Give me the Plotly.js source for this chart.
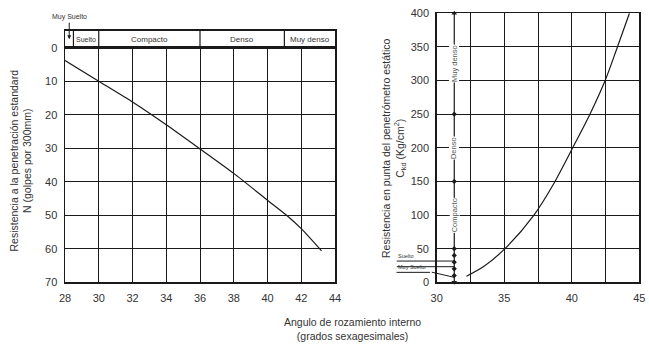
<!DOCTYPE html>
<html><head><meta charset="utf-8">
<script src="https://cdn.plot.ly/plotly-3.0.1.min.js"></script>
<style>html,body{margin:0;padding:0;background:#fff}#chart{width:649px;height:347px}</style>
</head><body><div id="chart"></div>
<script>
// ---- Left chart: friction angle vs SPT N ----
const sptAngle = [28, 30, 32, 34, 36, 38, 40, 41.13, 42, 43.2];
const sptN     = [3.8, 10, 16.2, 23.0, 30.2, 37.5, 45.5, 50, 54, 60.6];
const sptClassNames  = ['Muy Suelto', 'Suelto', 'Compacto', 'Denso', 'Muy denso'];
const sptClassBounds = [28, 28.5, 30, 36, 41, 44];
const leftXTicks = [28, 30, 32, 34, 36, 38, 40, 42, 44];
const leftYTicks = [0, 10, 20, 30, 40, 50, 60, 70];

// ---- Right chart: friction angle vs cone resistance ----
const cptAngle = [32.2, 33.45, 35.05, 37.2, 38.76, 40.07, 41.3, 42.47, 43.38, 44.27];
const cptQc    = [9, 23, 50, 100, 150, 200, 248, 300, 350, 400];
const cptScaleAngle  = 31.3;
const cptClassNames  = ['Compacto', 'Denso', 'Muy denso'];
const cptClassBounds = [50, 150, 250, 400];
const cptScaleTicks  = [10, 20, 30, 40, 50, 150, 250];
const cptLooseNames  = ['Suelto', 'Muy Suelto'];
const cptLooseLines  = [31.6, 23.2];
const cptVeryLooseLine = [14.8, 7.4];
const rightXTicks  = [30, 32.5, 35, 37.5, 40, 42.5, 45];
const rightXLabels = ['30', '', '35', '', '40', '', '45'];
const rightYTicks  = [0, 50, 100, 150, 200, 250, 300, 350, 400];

const W = 649, H = 347;
const INK = '#1a1a1a';
const tickFont = {family: 'Liberation Sans, Arial, sans-serif', size: 11, color: '#333'};

const gridAxis = (extra) => Object.assign({
  showgrid: true, gridcolor: INK, gridwidth: 1,
  showline: true, mirror: true, linecolor: INK, linewidth: 1.5,
  zeroline: false, ticks: 'outside', tickcolor: 'rgba(0,0,0,0)',
  tickfont: tickFont, fixedrange: true
}, extra);

const traces = [
  {x: sptAngle, y: sptN, xaxis: 'x', yaxis: 'y', mode: 'lines',
   line: {color: INK, width: 1.2, shape: 'spline', smoothing: 0.6}, hoverinfo: 'skip'},
  {x: cptAngle, y: cptQc, xaxis: 'x2', yaxis: 'y2', mode: 'lines',
   line: {color: INK, width: 1.2, shape: 'spline', smoothing: 0.8}, hoverinfo: 'skip'},
  {x: [cptScaleAngle, cptScaleAngle], y: [0, 400], xaxis: 'x2', yaxis: 'y2', mode: 'lines+markers',
   line: {color: INK, width: 1.2}, marker: {symbol: ['triangle-down', 'triangle-up'], size: 5, color: INK},
   cliponaxis: false, hoverinfo: 'skip'},
  {x: cptScaleTicks.map(() => cptScaleAngle), y: cptScaleTicks, xaxis: 'x2', yaxis: 'y2', mode: 'markers',
   marker: {symbol: 'diamond', size: 4, color: INK}, hoverinfo: 'skip'}
];

const shapes = [];
sptClassBounds.slice(1, -1).forEach(b => shapes.push({
  type: 'line', xref: 'x3', yref: 'y3', x0: b, x1: b, y0: 0, y1: 1,
  line: {color: INK, width: 1.2}
}));

const annotations = [];
// header labels
sptClassNames.forEach((name, i) => {
  const mid = (sptClassBounds[i] + sptClassBounds[i + 1]) / 2;
  if (i === 0) {
    annotations.push({xref: 'x3', yref: 'y3', x: mid, y: 0.5, text: name,
      showarrow: true, arrowhead: 2, arrowsize: 0.8, arrowwidth: 1, arrowcolor: INK,
      ax: 0, ay: -22, standoff: 0, font: {family: tickFont.family, size: 7, color: '#333'}});
  } else {
    annotations.push({xref: 'x3', yref: 'y3', x: mid, y: 0.5, text: name, showarrow: false,
      xanchor: 'center', yanchor: 'middle',
      font: {family: tickFont.family, size: i === 1 ? 7 : 8, color: '#333'}});
  }
});
// right scale class labels
cptClassNames.forEach((name, i) => {
  const mid = (cptClassBounds[i] + cptClassBounds[i + 1]) / 2;
  annotations.push({xref: 'x2', yref: 'y2', x: cptScaleAngle, y: mid, text: name, textangle: -90,
    showarrow: false, bgcolor: '#fff', borderpad: 0, xanchor: 'center', yanchor: 'middle',
    font: {family: tickFont.family, size: 7.5, color: '#555'}});
});
// loose-sand leaders
cptLooseLines.forEach(v => annotations.push({xref: 'x2', yref: 'y2', x: cptScaleAngle, y: v, text: ' ',
  showarrow: true, arrowhead: 0, arrowwidth: 1, arrowcolor: INK, ax: -59, ay: 0, standoff: 0,
  font: {size: 1}}));
annotations.push({xref: 'paper', yref: 'y2', x: 396 / W, y: cptLooseLines[0], yanchor: 'bottom', xanchor: 'left',
  text: cptLooseNames[0], showarrow: false, font: {family: tickFont.family, size: 5.5, color: '#333'}});
annotations.push({xref: 'paper', yref: 'y2', x: 396 / W, y: cptVeryLooseLine[0], yanchor: 'bottom', xanchor: 'left',
  text: cptLooseNames[1], showarrow: false, font: {family: tickFont.family, size: 5.5, color: '#333'}});
annotations.push({xref: 'paper', yref: 'y2', x: 430 / W, y: cptVeryLooseLine[0], text: ' ',
  showarrow: true, arrowhead: 0, arrowwidth: 1, arrowcolor: INK, ax: -35, ay: 0, standoff: 0, font: {size: 1}});
annotations.push({xref: 'x2', yref: 'y2', x: cptScaleAngle, y: cptVeryLooseLine[1], text: ' ',
  showarrow: true, arrowhead: 0, arrowwidth: 1, arrowcolor: INK, ax: -24, ay: -5.5, standoff: 0,
  font: {size: 1}});

// axis titles
const titleFont = {family: tickFont.family, size: 10.5, color: '#333'};
annotations.push({xref: 'paper', yref: 'paper', x: 20 / W, y: (H - 160.5) / H, textangle: -90, showarrow: false,
  xanchor: 'center', yanchor: 'middle',
  text: 'Resistencia a la penetración estandard<br>N (golpes por 300mm)', font: titleFont});
annotations.push({xref: 'paper', yref: 'paper', x: 393.5 / W, y: (H - 147.5) / H, textangle: -90, showarrow: false,
  xanchor: 'center', yanchor: 'middle',
  text: 'Resistencia en punta del penetrómetro estático<br>C<sub>kd</sub> (Kg/cm<sup>2</sup>)', font: titleFont});
annotations.push({xref: 'paper', yref: 'paper', x: 352 / W, y: (H - 328.5) / H, showarrow: false,
  xanchor: 'center', yanchor: 'middle',
  text: 'Angulo de rozamiento interno<br>(grados sexagesimales)', font: titleFont});

const layout = {
  width: W, height: H, margin: {l: 0, r: 0, t: 0, b: 0},
  paper_bgcolor: '#fff', plot_bgcolor: '#fff', showlegend: false,
  xaxis: gridAxis({domain: [65 / W, 335 / W], range: [28, 44], tickvals: leftXTicks, anchor: 'y', ticklen: 5}),
  yaxis: gridAxis({domain: [(H - 282.3) / H, (H - 47.7) / H], range: [70, 0], tickvals: leftYTicks, anchor: 'x', ticklen: 4}),
  xaxis3: {domain: [65 / W, 335 / W], range: [28, 44], anchor: 'y3', showgrid: false, showticklabels: false,
    showline: true, mirror: true, linecolor: INK, linewidth: 1.5, zeroline: false, ticks: '', fixedrange: true},
  yaxis3: {domain: [(H - 47.7) / H, (H - 30.7) / H], range: [0, 1], anchor: 'x3', showgrid: false, showticklabels: false,
    showline: true, mirror: true, linecolor: INK, linewidth: 1.5, zeroline: false, ticks: '', fixedrange: true},
  xaxis2: gridAxis({domain: [436.7 / W, 639.3 / W], range: [30, 45], tickvals: rightXTicks, ticktext: rightXLabels, anchor: 'y2', ticklen: 5}),
  yaxis2: gridAxis({domain: [(H - 282.3) / H, (H - 13.3) / H], range: [0, 400], tickvals: rightYTicks, anchor: 'x2', ticklen: 4}),
  shapes: shapes,
  annotations: annotations
};

Plotly.newPlot('chart', traces, layout, {staticPlot: true, displayModeBar: false});
</script>
</body></html>
